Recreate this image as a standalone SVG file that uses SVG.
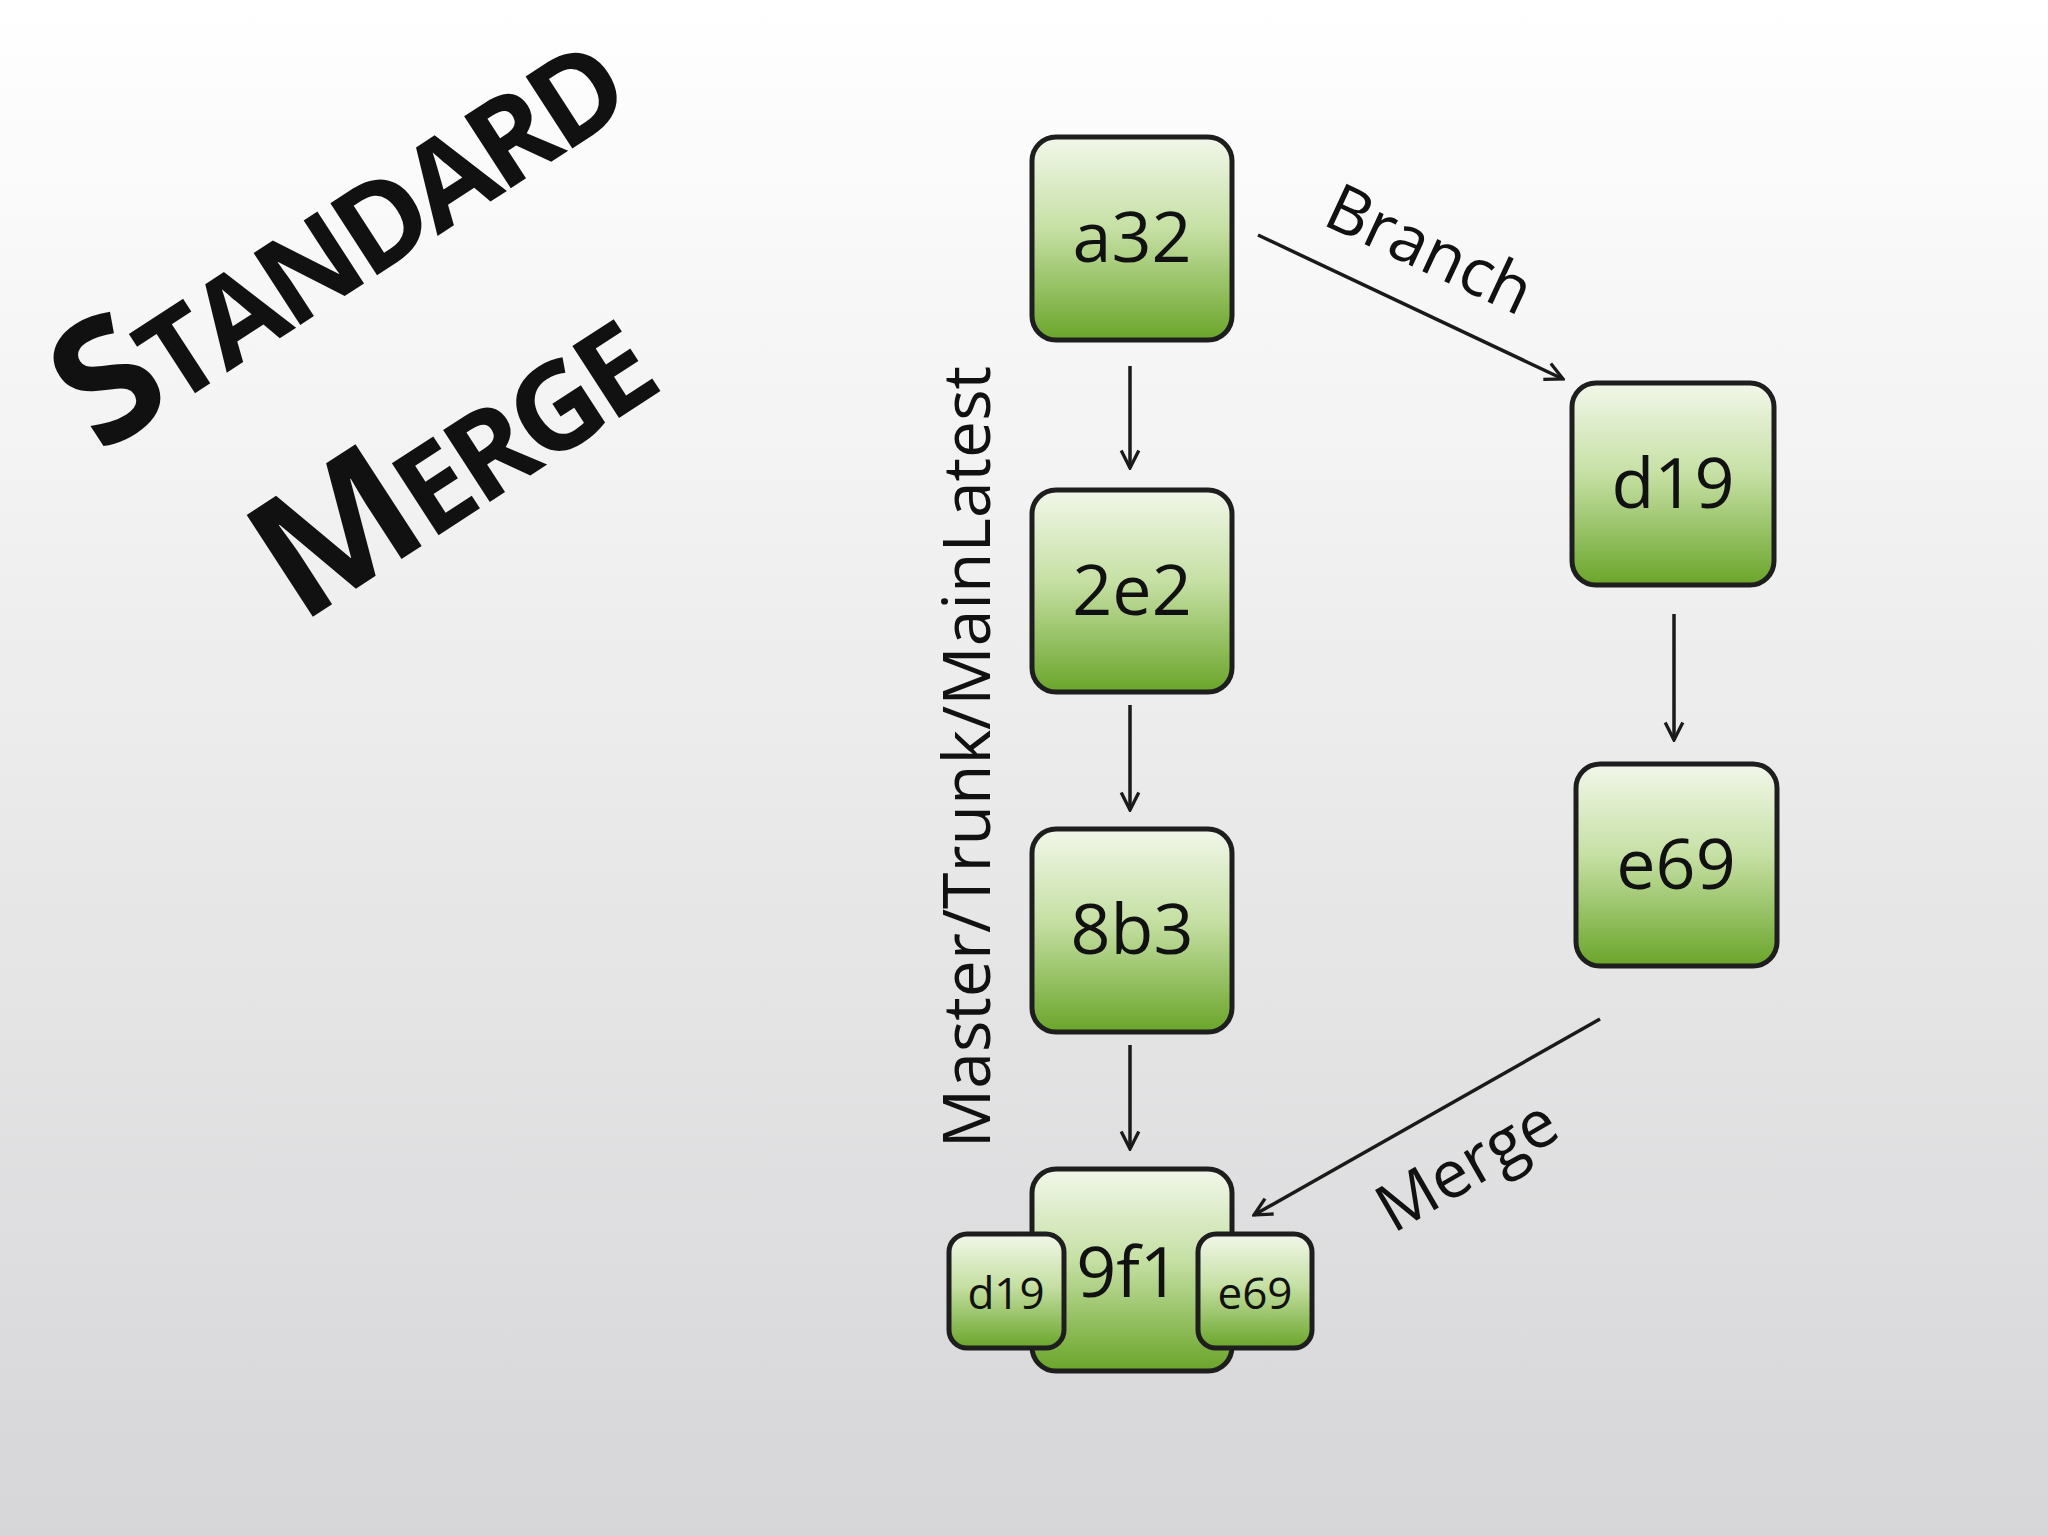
<svg xmlns="http://www.w3.org/2000/svg" width="2048" height="1536" viewBox="0 0 2048 1536">
<defs>
<linearGradient id="bg" x1="0" y1="0" x2="0" y2="1"><stop offset="0" stop-color="#ffffff"/><stop offset="1" stop-color="#d6d6d8"/></linearGradient>
<linearGradient id="ng" x1="0" y1="0" x2="0" y2="1"><stop offset="0" stop-color="#f2f7ea"/><stop offset="0.45" stop-color="#c6e0a4"/><stop offset="1" stop-color="#6aa52a"/></linearGradient>
<marker id="ah" viewBox="0 0 20 20" refX="18" refY="10" markerWidth="22" markerHeight="22" orient="auto" markerUnits="userSpaceOnUse"><path d="M2,2 L18,10 L2,18" fill="none" stroke="#1a1a1a" stroke-width="3"/></marker>
</defs>
<style>
.n{fill:url(#ng);stroke:#1e1e1e;stroke-width:5}
.t{font-family:"Open Sans","Liberation Sans",sans-serif;font-size:70px;fill:#111;text-anchor:middle}
.s{font-size:44px}
.c{stroke:#1a1a1a;stroke-width:3.5;fill:none;marker-end:url(#ah)}
.l{font-family:"Open Sans","Liberation Sans",sans-serif;font-size:66px;fill:#111;text-anchor:middle}
.ti{font-family:"Open Sans","Liberation Sans",sans-serif;fill:#111;font-weight:700;letter-spacing:-6px}
</style>
<rect width="2048" height="1536" fill="url(#bg)"/>
<g id="title">
<text class="ti" transform="translate(100,455) rotate(-33)" font-size="120"><tspan font-size="170">S</tspan>TANDARD</text>
<text class="ti" transform="translate(300,625) rotate(-33)" font-size="120"><tspan font-size="170">M</tspan>ERGE</text>
</g>
<g id="connectors">
<line class="c" x1="1130" y1="366" x2="1130" y2="468"/>
<line class="c" x1="1130" y1="705" x2="1130" y2="810"/>
<line class="c" x1="1130" y1="1045" x2="1130" y2="1149"/>
<line class="c" x1="1674" y1="614" x2="1674" y2="740"/>
<line class="c" x1="1258" y1="235" x2="1563" y2="379"/>
<line class="c" x1="1600" y1="1019" x2="1254" y2="1215"/>
</g>
<g id="labels">
<text class="l" transform="translate(1420,270) rotate(25)">Branch</text>
<text class="l" transform="translate(1478,1185) rotate(-30)">Merge</text>
<text class="l" transform="translate(990,757) rotate(-90)" font-size="64">Master/Trunk/MainLatest</text>
</g>
<g id="a32"><rect class="n" x="1032" y="137" width="200" height="203" rx="24"/><text class="t" x="1132" y="262">a32</text></g>
<g id="n2e2"><rect class="n" x="1032" y="490" width="200" height="202" rx="24"/><text class="t" x="1132" y="615">2e2</text></g>
<g id="n8b3"><rect class="n" x="1032" y="829" width="200" height="203" rx="24"/><text class="t" x="1132" y="954">8b3</text></g>
<g id="d19"><rect class="n" x="1572" y="383" width="202" height="202" rx="24"/><text class="t" x="1673" y="508">d19</text></g>
<g id="e69"><rect class="n" x="1576" y="764" width="201" height="202" rx="24"/><text class="t" x="1676" y="889">e69</text></g>
<g id="n9f1"><rect class="n" x="1032" y="1169" width="200" height="202" rx="24"/><text class="t" x="1128" y="1297">9f1</text>
<rect class="n" x="949" y="1234" width="115" height="114" rx="18"/><text class="t s" x="1006" y="1309">d19</text>
<rect class="n" x="1198" y="1234" width="114" height="114" rx="18"/><text class="t s" x="1255" y="1309">e69</text></g>
</svg>
